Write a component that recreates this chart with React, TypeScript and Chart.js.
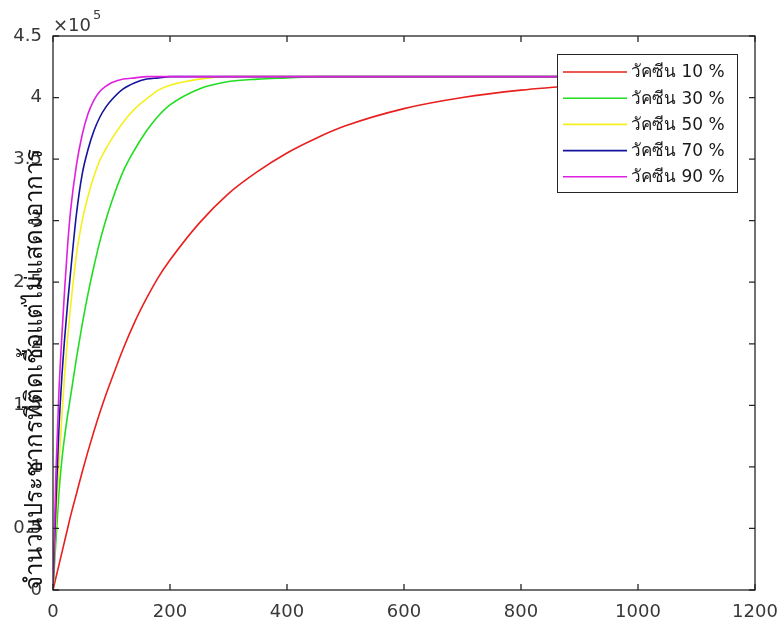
import React, { useEffect, useRef } from 'react';
import { Chart, registerables } from 'chart.js';

Chart.register(...registerables);

// Shared x positions (time)
const xValues = [0, 5, 10, 15, 20, 25, 30, 40, 50, 60, 70, 80, 90, 100, 120, 140, 160, 180, 200, 250, 300, 350, 400, 450, 500, 600, 700, 800, 900, 1000];

// Series values (number of people)
const vaccine10 = [0, 10000, 20000, 30000, 40000, 50000, 60000, 78000, 96000, 113000, 129000, 144000, 158000, 171000, 196000, 218000, 237000, 254000, 268000, 298000, 322000, 340000, 355000, 367000, 377000, 391000, 400000, 406000, 410000, 413000];
const vaccine30 = [0, 40000, 78000, 105000, 125000, 142000, 157000, 188000, 216000, 241000, 263000, 283000, 300000, 315000, 340000, 358000, 373000, 385000, 394000, 407000, 413000, 415000, 416000, 417000, 417000, 417000, 417000, 417000, 417000, 417000];
const vaccine50 = [0, 55000, 100000, 140000, 175000, 205000, 230000, 272000, 300000, 320000, 336000, 349000, 358000, 366000, 380000, 391000, 399000, 406000, 410000, 415000, 417000, 417000, 417000, 417000, 417000, 417000, 417000, 417000, 417000, 417000];
const vaccine70 = [0, 70000, 130000, 172000, 205000, 233000, 258000, 305000, 338000, 358000, 373000, 384000, 392000, 398000, 407000, 412000, 415000, 416000, 417000, 417000, 417000, 417000, 417000, 417000, 417000, 417000, 417000, 417000, 417000, 417000];
const vaccine90 = [0, 95000, 160000, 205000, 245000, 280000, 308000, 345000, 370000, 387000, 398000, 405000, 409000, 412000, 415000, 416000, 417000, 417000, 417000, 417000, 417000, 417000, 417000, 417000, 417000, 417000, 417000, 417000, 417000, 417000];

const seriesLabels = ['วัคซีน 10 %', 'วัคซีน 30 %', 'วัคซีน 50 %', 'วัคซีน 70 %', 'วัคซีน 90 %'];
const seriesColors = ['#e8201e', '#22dd22', '#f4f020', '#14149c', '#e020e0'];

const xTicks = [0, 200, 400, 600, 800, 1000, 1200];
const yTicks = [0, 50000, 100000, 150000, 200000, 250000, 300000, 350000, 400000, 450000];
const yTitle = 'จำนวนประชากรที่ติดเชื้อแต่ไม่แสดงอาการ';
const exponentBase = '×10';
const exponentPower = '5';

const FONT = "'DejaVu Sans', 'Liberation Sans', Arial, sans-serif";
const AXIS_COLOR = '#262626';
const LABEL_COLOR = '#383838';

const matlabPlugin = {
  id: 'matlabDecor',
  afterDatasetsDraw(chart: any) {
    const { ctx, chartArea: ca, scales } = chart;
    const xs = scales.x;
    const ys = scales.y;
    ctx.save();
    // box
    ctx.strokeStyle = AXIS_COLOR;
    ctx.lineWidth = 1.3;
    ctx.strokeRect(ca.left, ca.top, ca.right - ca.left, ca.bottom - ca.top);
    // ticks (inward)
    const tl = 6;
    ctx.beginPath();
    xTicks.forEach((v) => {
      const px = xs.getPixelForValue(v);
      ctx.moveTo(px, ca.bottom);
      ctx.lineTo(px, ca.bottom - tl);
      ctx.moveTo(px, ca.top);
      ctx.lineTo(px, ca.top + tl);
    });
    yTicks.forEach((v) => {
      const py = ys.getPixelForValue(v);
      ctx.moveTo(ca.left, py);
      ctx.lineTo(ca.left + tl, py);
      ctx.moveTo(ca.right, py);
      ctx.lineTo(ca.right - tl, py);
    });
    ctx.stroke();

    // legend
    ctx.font = `17px ${FONT}`;
    const lineLen = 64;
    const boxW = 180;
    const rowH = 26.2;
    const boxH = 138;
    const bx = ca.right - 18 - boxW;
    const by = ca.top + 18;
    ctx.fillStyle = '#ffffff';
    ctx.fillRect(bx, by, boxW, boxH);
    ctx.strokeStyle = AXIS_COLOR;
    ctx.lineWidth = 1;
    ctx.strokeRect(bx + 0.5, by + 0.5, boxW, boxH);
    seriesLabels.forEach((l, i) => {
      const cy = by + 18 + i * rowH;
      ctx.strokeStyle = seriesColors[i];
      ctx.lineWidth = 1.6;
      ctx.beginPath();
      ctx.moveTo(bx + 6, cy);
      ctx.lineTo(bx + 6 + lineLen, cy);
      ctx.stroke();
      ctx.fillStyle = '#1a1a1a';
      ctx.textAlign = 'left';
      ctx.textBaseline = 'middle';
      ctx.fillText(l, bx + 6 + lineLen + 4, cy + 1);
    });

    // exponent
    ctx.fillStyle = LABEL_COLOR;
    ctx.textBaseline = 'alphabetic';
    ctx.textAlign = 'left';
    ctx.font = `18px ${FONT}`;
    ctx.fillText(exponentBase, ca.left, ca.top - 5);
    const w = ctx.measureText(exponentBase).width;
    ctx.font = `13px ${FONT}`;
    ctx.fillText(exponentPower, ca.left + w + 2, ca.top - 17);

    // y title (overlapping ticks, as in original)
    ctx.save();
    ctx.translate(42, 369);
    ctx.rotate(-Math.PI / 2);
    ctx.fillStyle = '#111111';
    ctx.font = `24px 'Liberation Sans', Arial, sans-serif`;
    ctx.textAlign = 'center';
    ctx.textBaseline = 'alphabetic';
    ctx.fillText(yTitle, 0, 0);
    ctx.restore();

    ctx.restore();
  },
};

export default function App() {
  const canvasRef = useRef<HTMLCanvasElement | null>(null);

  useEffect(() => {
    if (!canvasRef.current) return;
    const series = [vaccine10, vaccine30, vaccine50, vaccine70, vaccine90];
    const chart = new Chart(canvasRef.current, {
      type: 'line',
      data: {
        datasets: series.map((vals, i) => ({
          label: seriesLabels[i],
          data: xValues.map((x, j) => ({ x, y: vals[j] })),
          borderColor: seriesColors[i],
          backgroundColor: seriesColors[i],
          borderWidth: 1.6,
          pointRadius: 0,
          fill: false,
          cubicInterpolationMode: 'monotone' as const,
          order: 5 - i,
        })),
      },
      options: {
        animation: false,
        responsive: false,
        maintainAspectRatio: false,
        devicePixelRatio: 1,
        layout: { padding: { top: 36, right: 25, left: 0, bottom: 0 } },
        plugins: {
          legend: { display: false },
          tooltip: { enabled: false },
          title: { display: false },
        },
        scales: {
          x: {
            type: 'linear',
            min: 0,
            max: 1200,
            afterBuildTicks: (s: any) => {
              s.ticks = xTicks.map((v) => ({ value: v }));
            },
            afterFit: (s: any) => {
              s.height = 42;
              s.paddingLeft = 0;
              s.paddingRight = 0;
            },
            ticks: {
              autoSkip: false,
              maxRotation: 0,
              padding: 12,
              color: LABEL_COLOR,
              font: { size: 18, family: FONT },
              callback: (v: any) => String(v),
            },
            grid: { display: false, drawTicks: false },
            border: { display: false },
          },
          y: {
            type: 'linear',
            min: 0,
            max: 450000,
            afterBuildTicks: (s: any) => {
              s.ticks = yTicks.map((v) => ({ value: v }));
            },
            afterFit: (s: any) => {
              s.width = 53;
              s.paddingTop = 0;
              s.paddingBottom = 0;
            },
            ticks: {
              autoSkip: false,
              padding: 11,
              color: LABEL_COLOR,
              font: { size: 18, family: FONT },
              callback: (v: any) => String(Number(v) / 100000),
            },
            grid: { display: false, drawTicks: false },
            border: { display: false },
          },
        },
      },
      plugins: [matlabPlugin],
    });
    return () => {
      chart.destroy();
    };
  }, []);

  return (
    <div style={{ position: 'absolute', left: 0, top: 0, width: 780, height: 632, background: '#ffffff' }}>
      <canvas ref={canvasRef} width={780} height={632} style={{ width: 780, height: 632 }} />
    </div>
  );
}
